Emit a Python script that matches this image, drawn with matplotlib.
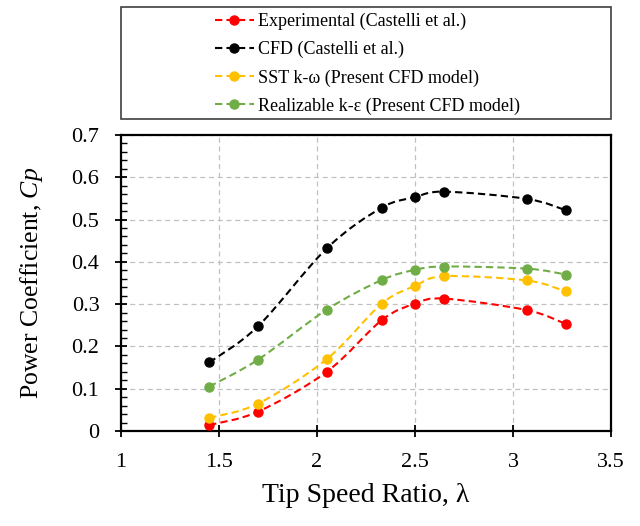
"""Power coefficient vs tip speed ratio: Castelli et al. data vs present CFD models."""

import matplotlib
matplotlib.use("Agg")
import matplotlib.pyplot as plt
from matplotlib.lines import Line2D
from matplotlib.patches import PathPatch, Rectangle
from matplotlib.path import Path
from matplotlib.ticker import MultipleLocator

plt.rcParams["font.family"] = ["Liberation Serif", "DejaVu Serif"]
plt.rcParams["mathtext.fontset"] = "custom"
plt.rcParams["mathtext.rm"] = "Liberation Serif"
plt.rcParams["mathtext.it"] = "Liberation Serif:italic"

# data
tsr = [1.45, 1.70, 2.05, 2.33, 2.50, 2.65, 3.07, 3.27]
cp_experimental = [0.014, 0.046, 0.140, 0.262, 0.301, 0.313, 0.286, 0.253]
cp_cfd_castelli = [0.162, 0.248, 0.432, 0.528, 0.553, 0.566, 0.549, 0.522]
cp_sst = [0.031, 0.065, 0.170, 0.301, 0.343, 0.366, 0.356, 0.330]
cp_realizable = [0.105, 0.169, 0.287, 0.357, 0.381, 0.389, 0.384, 0.370]

labels = [
    "Experimental (Castelli et al.)",
    "CFD (Castelli et al.)",
    "SST k-\u03c9 (Present CFD model)",
    "Realizable k-\u03b5 (Present CFD model)",
]
colors = ["#FF0000", "#000000", "#FFC000", "#70AD47"]
series = [cp_experimental, cp_cfd_castelli, cp_sst, cp_realizable]

DASHES = (3.5, 2.0)


def smooth_path(xs, ys):
    """Excel-style smoothed line: Catmull-Rom segments as cubic Beziers."""
    pts = list(zip(xs, ys))
    n = len(pts)
    verts = [pts[0]]
    codes = [Path.MOVETO]
    for i in range(n - 1):
        p0 = pts[max(i - 1, 0)]
        p1 = pts[i]
        p2 = pts[i + 1]
        p3 = pts[min(i + 2, n - 1)]
        c1 = (p1[0] + (p2[0] - p0[0]) / 6, p1[1] + (p2[1] - p0[1]) / 6)
        c2 = (p2[0] - (p3[0] - p1[0]) / 6, p2[1] - (p3[1] - p1[1]) / 6)
        verts += [c1, c2, p2]
        codes += [Path.CURVE4] * 3
    return Path(verts, codes)


fig = plt.figure(figsize=(6.4, 5.26), dpi=100)
ax = fig.add_axes([121 / 640, 1 - 431 / 526, 490 / 640, 296 / 526])

for ys, color in zip(series, colors):
    patch = PathPatch(smooth_path(tsr, ys), fill=False, edgecolor=color,
                      linewidth=1.5, linestyle=(0, DASHES), zorder=3)
    ax.add_patch(patch)
    ax.plot(tsr, ys, "o", color=color, markersize=6.5, linestyle="none", zorder=4)

ax.set_xlim(1, 3.5)
ax.set_ylim(0, 0.7)
ax.yaxis.set_minor_locator(MultipleLocator(0.02))
ax.set_xticks([1, 1.5, 2, 2.5, 3, 3.5], ["1", "1.5", "2", "2.5", "3", "3.5"])
ax.set_yticks([0, 0.1, 0.2, 0.3, 0.4, 0.5, 0.6, 0.7],
              ["0", "0.1", "0.2", "0.3", "0.4", "0.5", "0.6", "0.7"])

ax.tick_params(axis="both", which="major", direction="inout", length=9, width=1.3,
               labelsize=16, pad=11)
ax.tick_params(axis="y", which="minor", direction="in", length=4, width=1.0)
for spine in ax.spines.values():
    spine.set_linewidth(1.6)

ax.grid(True, which="major", color="#C0C0C0", linewidth=0.9, linestyle=(0, (4, 3)))
ax.set_axisbelow(True)

ax.set_xlabel("Tip Speed Ratio, \u03bb", fontsize=20, labelpad=8)
ax.set_ylabel("Power Coefficient, $Cp$", fontsize=18.5, labelpad=19)

# legend box spans the width of the plot area
fig.patches.append(Rectangle((121 / 640, 1 - 119 / 526), 490 / 640, 112 / 526,
                             transform=fig.transFigure, fill=False,
                             edgecolor="#404040", linewidth=1.2))
handles = [Line2D([], [], color=c, linewidth=1.5, linestyle=(0, DASHES),
                  marker="o", markersize=6.5) for c in colors]
fig.legend(handles, labels, loc="upper left", bbox_to_anchor=(206 / 640, 1 - 4 / 526),
           frameon=False, fontsize=13, borderpad=0, handlelength=2.15,
           handletextpad=0.25, labelspacing=0.6, numpoints=1)

fig.savefig("out.png", dpi=100)
